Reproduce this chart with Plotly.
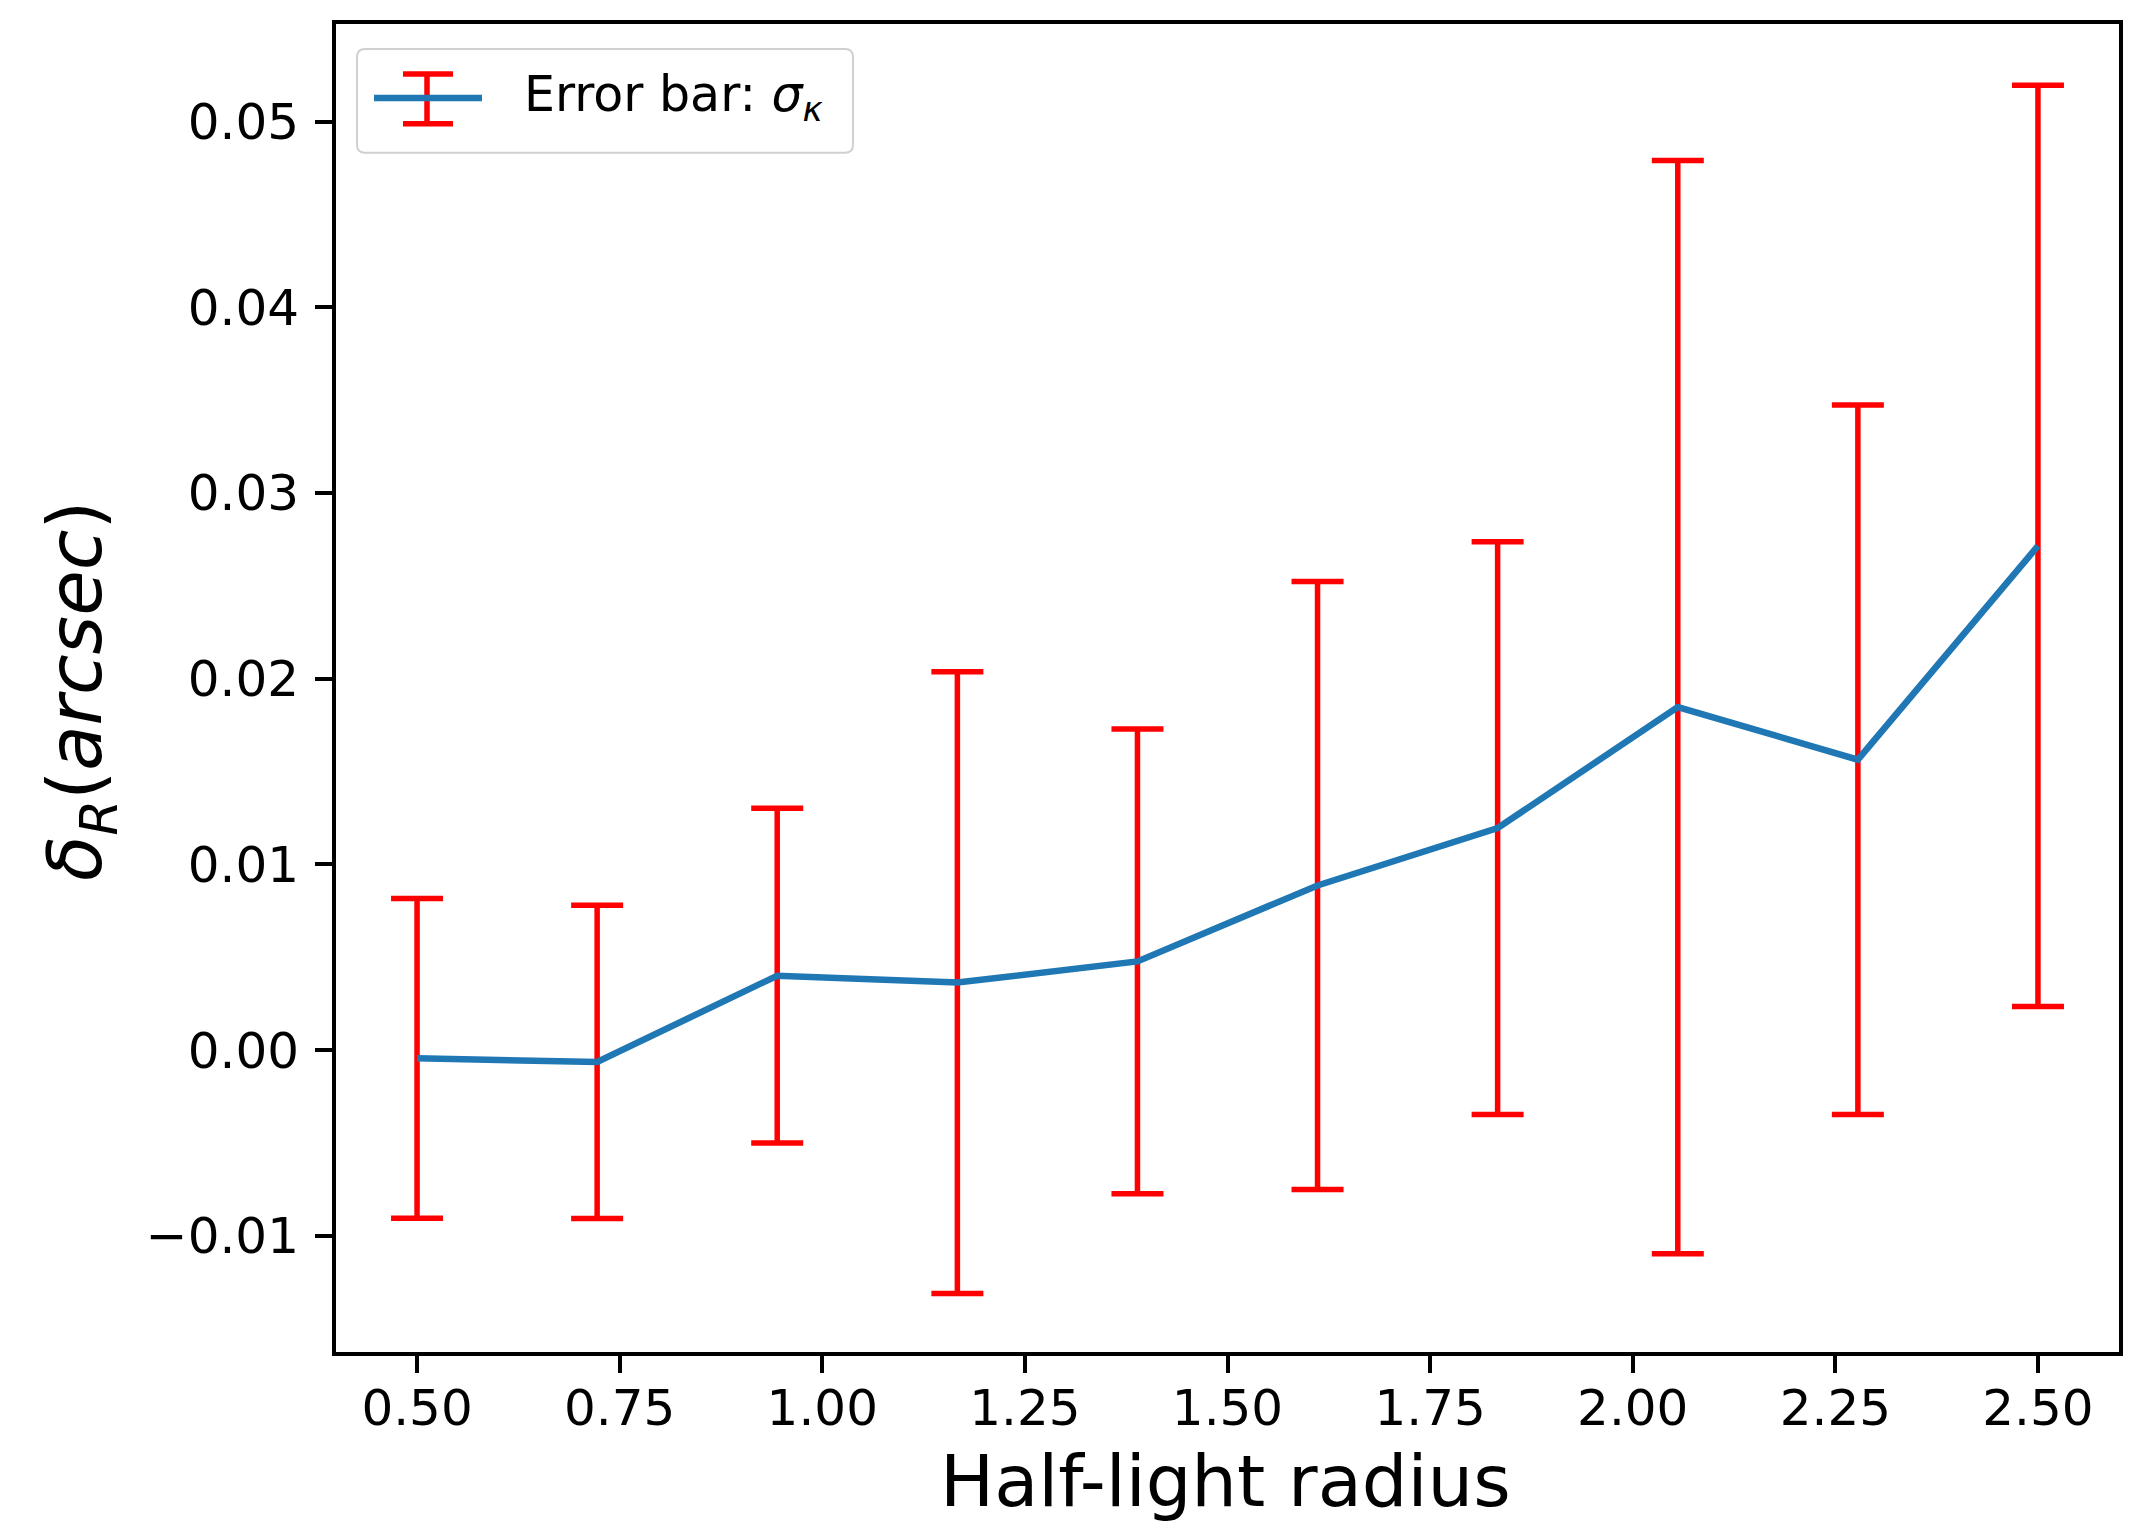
import plotly.graph_objects as go

# Data
half_light_radius = [0.5, 0.7222, 0.9444, 1.1667, 1.3889, 1.6111, 1.8333, 2.0556, 2.2778, 2.5]
delta_r = [-0.00044, -0.00063, 0.00401, 0.00364, 0.00478, 0.00887, 0.01196, 0.01847, 0.01564, 0.02715]
sigma_k = [0.00861, 0.00843, 0.00901, 0.01674, 0.01251, 0.01637, 0.01542, 0.02943, 0.01910, 0.02480]
x_ticks = [0.5, 0.75, 1.0, 1.25, 1.5, 1.75, 2.0, 2.25, 2.5]
y_ticks = [-0.01, 0.0, 0.01, 0.02, 0.03, 0.04, 0.05]

W, H = 2141, 1528
OFF = 8  # default page body margin
L, R, T, B = 336, 22, 22, 176
PW, PH = W - L - R, H - T - B
FONT = "DejaVu Sans"
BLUE = "#1f77b4"


def px(x):
    return (x - L) / PW


def py(y):
    return (H - B - y) / PH


fig = go.Figure()
fig.add_trace(go.Scatter(
    x=half_light_radius, y=delta_r, mode="lines",
    line=dict(color=BLUE, width=6.5),
    error_y=dict(type="data", array=sigma_k, symmetric=True,
                 color="red", thickness=5.5, width=26),
    showlegend=False,
))

axis_common = dict(
    showline=True, linecolor="black", linewidth=4, mirror=True,
    ticks="outside", ticklen=17, tickwidth=4, tickcolor="black",
    showgrid=False, zeroline=False,
    tickfont=dict(family=FONT, size=50, color="black"),
)
fig.update_xaxes(range=[0.4, 2.6], tickvals=x_ticks,
                 ticktext=[f"{v:.2f}" for v in x_ticks],
                 ticklabelstandoff=-8, **axis_common)
fig.update_yaxes(range=[-0.01625, 0.05525], tickvals=y_ticks,
                 ticktext=[f"{v:.2f}".replace("-", "\u2212") for v in y_ticks],
                 ticklabelstandoff=6, **axis_common)

# Axis titles
annotations = [
    dict(text="Half-light radius", x=px(1225), y=py(1481), xref="paper", yref="paper",
         xanchor="center", yanchor="middle", showarrow=False,
         font=dict(family=FONT, size=72, color="black")),
    dict(text="<i>δ</i><sub><i>R</i></sub>(<i>arcsec</i>)", x=px(81), y=py(690),
         xref="paper", yref="paper", textangle=-90,
         xanchor="center", yanchor="middle", showarrow=False,
         font=dict(family=FONT, size=74, color="black")),
    dict(text="Error bar: <i>σ</i><sub><i>κ</i></sub>", x=px(522), y=py(96),
         xref="paper", yref="paper", xanchor="left", yanchor="middle",
         showarrow=False, font=dict(family=FONT, size=49, color="black")),
]

# Custom legend box (rounded corners)
x0, x1, y0, y1, r = 357, 853, 47, 151, 8
path = (f"M {px(x0 + r)},{py(y0)} L {px(x1 - r)},{py(y0)} "
        f"Q {px(x1)},{py(y0)} {px(x1)},{py(y0 + r)} L {px(x1)},{py(y1 - r)} "
        f"Q {px(x1)},{py(y1)} {px(x1 - r)},{py(y1)} L {px(x0 + r)},{py(y1)} "
        f"Q {px(x0)},{py(y1)} {px(x0)},{py(y1 - r)} L {px(x0)},{py(y0 + r)} "
        f"Q {px(x0)},{py(y0)} {px(x0 + r)},{py(y0)} Z")
shapes = [
    dict(type="path", path=path, xref="paper", yref="paper",
         line=dict(color="#d0d0d0", width=2), fillcolor="rgba(255,255,255,0.8)"),
    dict(type="line", xref="paper", yref="paper", x0=px(427), x1=px(427),
         y0=py(72), y1=py(122), line=dict(color="red", width=5.5)),
    dict(type="line", xref="paper", yref="paper", x0=px(403), x1=px(453),
         y0=py(72), y1=py(72), line=dict(color="red", width=5.5)),
    dict(type="line", xref="paper", yref="paper", x0=px(403), x1=px(453),
         y0=py(122), y1=py(122), line=dict(color="red", width=5.5)),
    dict(type="line", xref="paper", yref="paper", x0=px(374), x1=px(482),
         y0=py(96), y1=py(96), line=dict(color=BLUE, width=6.5)),
]

fig.update_layout(
    width=W - OFF, height=H - OFF, autosize=False,
    margin=dict(l=L - OFF, r=R, t=T - OFF, b=B, pad=0),
    paper_bgcolor="white", plot_bgcolor="white",
    font=dict(family=FONT, color="black"),
    annotations=annotations, shapes=shapes,
    showlegend=False,
)

fig.write_html("out.html")
